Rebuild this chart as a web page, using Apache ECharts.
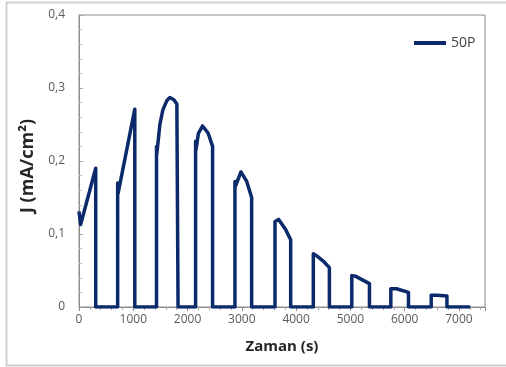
<!DOCTYPE html>
<html>
<head>
<meta charset="utf-8">
<script src="https://cdn.jsdelivr.net/npm/echarts@6/dist/echarts.min.js"></script>
<style>html,body{margin:0;padding:0;background:#fff}#c{width:506px;height:367px}</style>
</head>
<body>
<div id="c"></div>
<script>
var seriesName = '50P';
var timeS = [0, 30, 308, 308, 712, 712, 718, 1028, 1028, 1428, 1428, 1434, 1490, 1545, 1620, 1673, 1747, 1803, 1825, 1825,
  2148, 2148, 2155, 2200, 2277, 2380, 2461, 2461, 2873, 2873, 2880, 2983, 3090, 3181, 3181,
  3611, 3611, 3679, 3800, 3900, 3900, 4317, 4317, 4380, 4500, 4613, 4613,
  5026, 5026, 5100, 5351, 5351, 5745, 5745, 5850, 6070, 6070, 6489, 6489, 6600, 6779, 6779, 7208];
var currentJ = [0.131, 0.113, 0.19, 0, 0, 0.17, 0.155, 0.271, 0, 0, 0.22, 0.21, 0.25, 0.27, 0.283, 0.287, 0.284, 0.278, 0.277, 0,
  0, 0.227, 0.215, 0.238, 0.248, 0.238, 0.22, 0, 0, 0.172, 0.165, 0.185, 0.172, 0.15, 0,
  0, 0.117, 0.12, 0.107, 0.092, 0, 0, 0.073, 0.07, 0.063, 0.054, 0,
  0, 0.043, 0.042, 0.032, 0, 0, 0.025, 0.025, 0.02, 0, 0, 0.016, 0.016, 0.015, 0, 0];
var xTicks = [0, 1000, 2000, 3000, 4000, 5000, 6000, 7000];
var yTicks = [0, 0.1, 0.2, 0.3, 0.4];

var data = timeS.map(function (t, i) { return [t, currentJ[i]]; });
var chart = echarts.init(document.getElementById('c'));
var fontFam = '"Open Sans", "Liberation Sans", sans-serif';
chart.setOption({
  animation: false,
  backgroundColor: '#fff',
  graphic: [{
    type: 'rect', shape: { x: 6.5, y: 2.5, width: 520, height: 363 },
    style: { fill: 'none', stroke: '#d0d0d0', lineWidth: 2 }, silent: true
  }],
  grid: { left: 79, right: 21, top: 15, bottom: 60, show: true, borderColor: '#8c8c8c', borderWidth: 1 },
  legend: {
    left: 409, top: 31, itemWidth: 32, itemHeight: 14, itemGap: 2,
    icon: 'path://M0,5.5 L32,5.5 L32,9.5 L0,9.5 Z',
    textStyle: { color: '#404040', fontSize: 14, fontFamily: fontFam },
    data: [seriesName]
  },
  xAxis: {
    type: 'value', min: xTicks[0], max: 7480, interval: 1000,
    name: 'Zaman (s)', nameLocation: 'middle', nameGap: 32,
    nameTextStyle: { fontSize: 15, fontWeight: 'bold', color: '#262626', fontFamily: fontFam },
    axisLine: { show: true, lineStyle: { color: '#8c8c8c' } },
    axisTick: { show: true, length: 4, lineStyle: { color: '#8c8c8c' } },
    minorTick: { show: true, splitNumber: 5, length: 3, lineStyle: { color: '#a6a6a6' } },
    splitLine: { show: false },
    axisLabel: { color: '#595959', fontSize: 12, fontFamily: fontFam, margin: 7, showMaxLabel: false,
      formatter: function (v) { return xTicks.indexOf(v) >= 0 ? String(v) : ''; } }
  },
  yAxis: {
    type: 'value', min: yTicks[0], max: yTicks[yTicks.length - 1], interval: 0.1,
    name: 'J (mA/cm²)', nameLocation: 'middle', nameGap: 40,
    nameTextStyle: { fontSize: 18, fontWeight: 'bold', color: '#262626', fontFamily: fontFam, padding: [0, 10, 0, 0] },
    axisLine: { show: true, lineStyle: { color: '#8c8c8c' } },
    axisTick: { show: true, inside: true, length: 4, lineStyle: { color: '#a6a6a6' } },
    minorTick: { show: true, splitNumber: 5, length: 3, lineStyle: { color: '#bfbfbf' } },
    splitLine: { show: false },
    axisLabel: { color: '#595959', fontSize: 12, fontFamily: fontFam, margin: 14,
      formatter: function (v) { return String(Math.round(v * 10) / 10).replace('.', ','); } }
  },
  series: [{
    name: seriesName, type: 'line', data: data, showSymbol: false, symbol: 'none',
    lineStyle: { color: '#0b2a6b', width: 3.5, join: 'round' },
    itemStyle: { color: '#0b2a6b' }
  }]
});
</script>
</body>
</html>
